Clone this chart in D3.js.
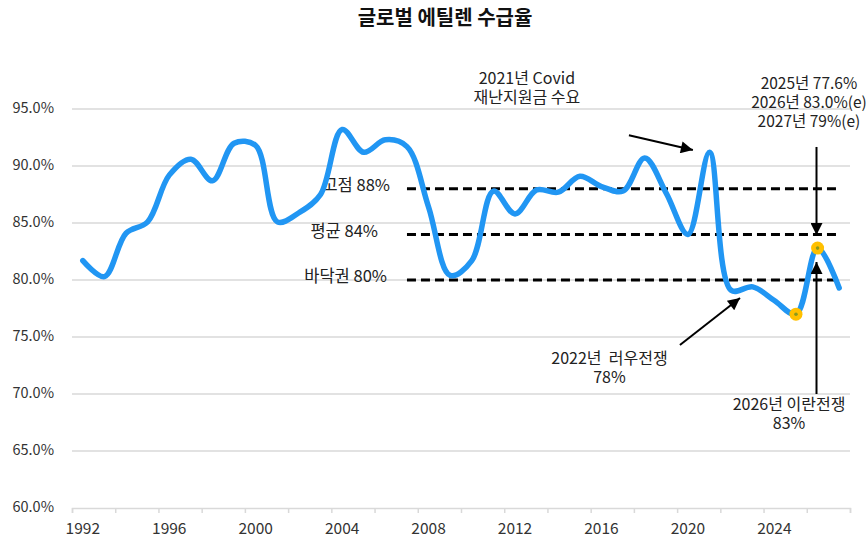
<!DOCTYPE html>
<html>
<head>
<meta charset="utf-8">
<script src="https://cdn.jsdelivr.net/npm/d3@7"></script>
<style>
  body { margin: 0; background: #fff; }
  text { font-family: "Noto Sans CJK KR", "Noto Sans", sans-serif; }
</style>
</head>
<body>
<div id="chart"></div>
<script>
// 연도별 글로벌 에틸렌 수급율 (%)
const years = d3.range(1992, 2028);
const ratio = [
  81.7, 80.3, 84.1, 85.1, 89.2, 90.6, 88.7, 92.0, 91.8, 85.1,
  85.9, 87.5, 93.2, 91.2, 92.3, 91.7, 86.4, 80.4, 81.7, 87.8,
  85.8, 87.9, 87.7, 89.1, 88.2, 87.8, 90.7, 87.6, 84.0, 91.2,
  79.1, 79.4, 78.2, 77.0, 82.8, 79.3
];
const highlightYears = [2025, 2026];

const refLines = [
  { label: "고점 88%", value: 88, labelEnd: 390 },
  { label: "평균 84%", value: 84, labelEnd: 378 },
  { label: "바닥권 80%", value: 80, labelEnd: 387 }
];
const refFrom = 2007, refTo = 2027;

const yTicks = [60, 65, 70, 75, 80, 85, 90, 95];
const xLabelYears = d3.range(1992, 2028, 4);

const W = 868, H = 541;
const svg = d3.select("#chart").append("svg")
  .attr("width", W).attr("height", H);

const x = d3.scaleLinear().domain([1991.5, 2027.5]).range([72, 850]);
const y = d3.scaleLinear().domain([60, 95]).range([508, 109]);

svg.append("text")
  .attr("x", 445).attr("y", 20)
  .attr("text-anchor", "middle").attr("dominant-baseline", "middle")
  .style("font-size", "20px").style("font-weight", "bold").style("fill", "#111")
  .text("글로벌 에틸렌 수급율");

// grid
svg.append("g").selectAll("line").data(yTicks.slice(1)).enter()
  .append("line")
  .attr("x1", x.range()[0]).attr("x2", x.range()[1])
  .attr("y1", d => y(d)).attr("y2", d => y(d))
  .attr("stroke", "#d9d9d9").attr("stroke-width", 1.5);

svg.append("g").selectAll("text").data(yTicks).enter()
  .append("text")
  .attr("x", 54).attr("y", d => y(d))
  .attr("text-anchor", "end").attr("dominant-baseline", "middle")
  .style("font-size", "14.5px").style("fill", "#333")
  .text(d => d.toFixed(1) + "%");

// x axis
const xAxis = svg.append("g")
  .attr("transform", `translate(0,${y(60)})`)
  .call(d3.axisBottom(x).tickValues(d3.range(1991.5, 2028, 2)).tickSize(5).tickFormat(""));
xAxis.select(".domain").attr("stroke", "#d9d9d9").attr("stroke-width", 1.5);
xAxis.selectAll(".tick line").attr("stroke", "#d9d9d9").attr("stroke-width", 1.5);

svg.append("g").selectAll("text").data(xLabelYears).enter()
  .append("text")
  .attr("x", d => x(d)).attr("y", 530)
  .attr("text-anchor", "middle").attr("dominant-baseline", "middle")
  .style("font-size", "15.5px").style("fill", "#333")
  .text(d => d);

// reference dashed lines
refLines.forEach(r => {
  svg.append("line")
    .attr("x1", x(refFrom)).attr("x2", x(refTo))
    .attr("y1", y(r.value)).attr("y2", y(r.value))
    .attr("stroke", "#000").attr("stroke-width", 3)
    .attr("stroke-dasharray", "9,5");
  svg.append("text")
    .attr("x", r.labelEnd).attr("y", y(r.value) - 2)
    .attr("text-anchor", "end").attr("dominant-baseline", "middle")
    .style("font-size", "16.5px").style("fill", "#222")
    .text(r.label);
});

// main line
const line = d3.line()
  .x((d, i) => x(years[i]))
  .y(d => y(d))
  .curve(d3.curveCatmullRom.alpha(0.5));

svg.append("path").datum(ratio)
  .attr("d", line)
  .attr("fill", "none")
  .attr("stroke", "#2196f3")
  .attr("stroke-width", 5.5)
  .attr("stroke-linejoin", "round")
  .attr("stroke-linecap", "round");

const hl = highlightYears.map(yr => ({ yr, v: ratio[years.indexOf(yr)] }));
svg.append("g").selectAll("circle").data(hl).enter()
  .append("circle")
  .attr("cx", d => x(d.yr)).attr("cy", d => y(d.v))
  .attr("r", 6.5).attr("fill", "#ffc000");
svg.append("g").selectAll("circle").data(hl).enter()
  .append("circle")
  .attr("cx", d => x(d.yr)).attr("cy", d => y(d.v))
  .attr("r", 1.8).attr("fill", "#8a9a1e");

// annotations
const defs = svg.append("defs");
defs.append("marker")
  .attr("id", "arrow")
  .attr("viewBox", "0 0 10 10")
  .attr("refX", 10).attr("refY", 5)
  .attr("markerWidth", 7).attr("markerHeight", 6)
  .attr("markerUnits", "strokeWidth")
  .attr("orient", "auto")
  .append("path").attr("d", "M0,0 L10,5 L0,10 z").attr("fill", "#000");

function arrow(from, to) {
  svg.append("line")
    .attr("x1", x(from[0])).attr("y1", y(from[1]))
    .attr("x2", x(to[0])).attr("y2", y(to[1]))
    .attr("stroke", "#000").attr("stroke-width", 2)
    .attr("marker-end", "url(#arrow)");
}

// one text block per note, lines as tspans
function note(lines, cx, cyFirst, step, size) {
  const t = svg.append("text")
    .attr("text-anchor", "middle")
    .style("font-size", (size || 16) + "px").style("fill", "#222")
    .style("white-space", "pre");
  lines.forEach((s, i) => {
    t.append("tspan")
      .attr("x", x(cx)).attr("y", y(cyFirst) + i * step)
      .attr("dominant-baseline", "middle")
      .text(s);
  });
}

note(["2021년 Covid", "재난지원금 수요"], 2012.55, 97.54, 19);
arrow([2017.27, 92.7], [2020.23, 91.4]);

note(["2022년  러우전쟁", "78%"], 2016.37, 72.98, 19);
arrow([2019.63, 74.3], [2022.41, 78.42]);

note(["2025년 77.6%", "2026년 83.0%(e)", "2027년 79%(e)"], 2025.6, 97.1, 19, 15.5);
arrow([2025.95, 91.67], [2025.95, 83.95]);

note(["2026년 이란전쟁", "83%"], 2024.68, 68.95, 19);
arrow([2025.95, 70.0], [2025.95, 81.58]);
</script>
</body>
</html>
